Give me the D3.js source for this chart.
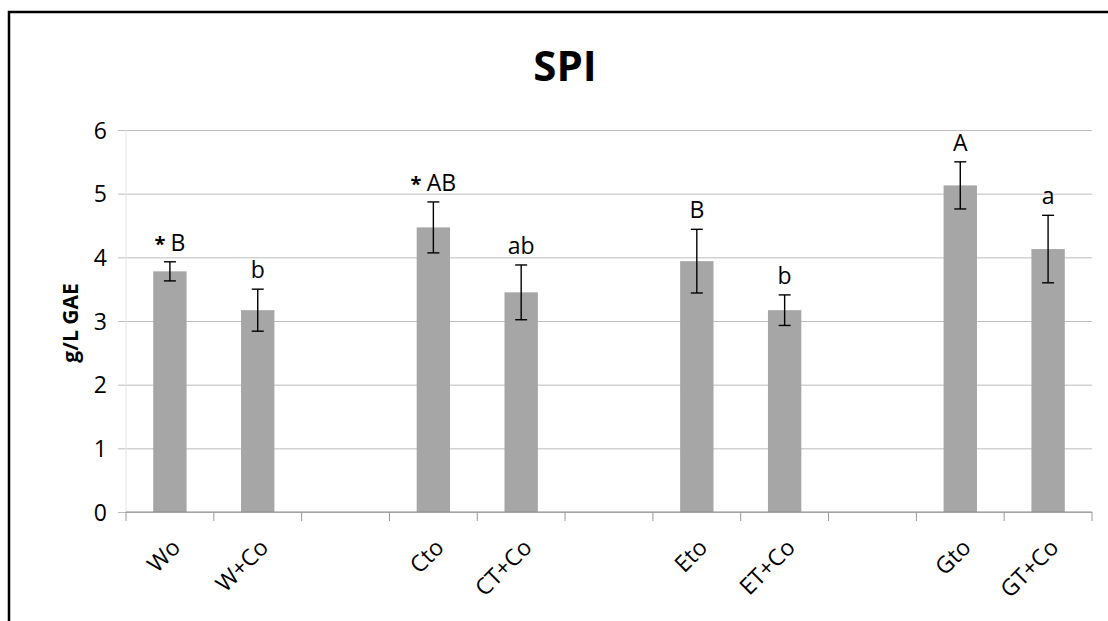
<!DOCTYPE html>
<html>
<head>
<meta charset="utf-8">
<script src="https://cdn.jsdelivr.net/npm/d3@7"></script>
<style>
  body { margin: 0; background: #fff; }
  text { font-family: "Open Sans", "Noto Sans", sans-serif; fill: #000; }
</style>
</head>
<body>
<div id="chart"></div>
<script>
var svgWidth = 1108;
var svgHeight = 621;

var margin = { top: 130, right: 16, bottom: 109, left: 126 };

var width = svgWidth - margin.left - margin.right;
var height = svgHeight - margin.top - margin.bottom;

// categories, empty strings are the spacer slots between groups
var categories = ["Wo", "W+Co", "", "Cto", "CT+Co", "", "Eto", "ET+Co", "", "Gto", "GT+Co"];
var values     = [3.78, 3.17, null, 4.47, 3.45, null, 3.94, 3.17, null, 5.13, 4.13];
var errors     = [0.15, 0.33, null, 0.40, 0.43, null, 0.50, 0.24, null, 0.37, 0.53];
var letters    = ["B", "b", "", "AB", "ab", "", "B", "b", "", "A", "a"];
var starred    = [true, false, false, true, false, false, false, false, false, false, false];
var yTicks     = [0, 1, 2, 3, 4, 5, 6];

var svg = d3.select("#chart")
  .append("svg")
  .attr("width", svgWidth)
  .attr("height", svgHeight);

// outer frame (left and top edges only, picture is cropped)
svg.append("path")
  .attr("d", "M9,621 V12 H1108")
  .attr("fill", "none")
  .attr("stroke", "#000")
  .attr("stroke-width", 2.5);

var chartGroup = svg.append("g")
  .attr("transform", `translate(${margin.left}, ${margin.top})`);

var idx = d3.range(categories.length);

var xBand = d3.scaleBand()
  .domain(idx)
  .range([0, width])
  .paddingInner(0.62)
  .paddingOuter(0.31);

var xSlot = d3.scaleBand()
  .domain(idx)
  .range([0, width])
  .padding(0);

var yLinearScale = d3.scaleLinear()
  .domain([0, 6])
  .range([height, 0]);

// gridlines + y ticks
var leftAxis = d3.axisLeft(yLinearScale)
  .tickValues(yTicks)
  .tickSize(-width)
  .tickPadding(19)
  .tickFormat(d3.format("d"));

var yAxis = chartGroup.append("g").call(leftAxis);
yAxis.select(".domain").remove();
yAxis.selectAll(".tick line")
  .attr("x1", -8)
  .attr("stroke", "#bdbdbd")
  .attr("stroke-width", 1);
yAxis.selectAll(".tick text")
  .style("font-size", "23px")
  .attr("dy", "0.36em");

// faint vertical value axis
chartGroup.append("line")
  .attr("x1", 0).attr("x2", 0)
  .attr("y1", 0).attr("y2", height)
  .attr("stroke", "#e6e6e6");

// bars
chartGroup.selectAll(".bar")
  .data(idx.filter(i => values[i] !== null))
  .enter()
  .append("rect")
  .attr("class", "bar")
  .attr("x", i => xBand(i))
  .attr("width", xBand.bandwidth())
  .attr("y", i => yLinearScale(values[i]))
  .attr("height", i => height - yLinearScale(values[i]))
  .attr("fill", "#a6a6a6");

// x axis line + tick marks between categories
chartGroup.append("line")
  .attr("x1", 0).attr("x2", width)
  .attr("y1", height).attr("y2", height)
  .attr("stroke", "#8c8c8c")
  .attr("stroke-width", 1.2);

chartGroup.selectAll(".xtick")
  .data(d3.range(categories.length + 1))
  .enter()
  .append("line")
  .attr("class", "xtick")
  .attr("x1", i => i * xSlot.step())
  .attr("x2", i => i * xSlot.step())
  .attr("y1", height)
  .attr("y2", height + 9)
  .attr("stroke", "#999")
  .attr("stroke-width", 1);

// error bars
var errGroup = chartGroup.selectAll(".err")
  .data(idx.filter(i => values[i] !== null))
  .enter()
  .append("g")
  .attr("class", "err")
  .attr("transform", i => `translate(${xBand(i) + xBand.bandwidth() / 2}, 0)`)
  .attr("stroke", "#000")
  .attr("stroke-width", 1.4);

errGroup.append("line")
  .attr("y1", i => yLinearScale(values[i] + errors[i]))
  .attr("y2", i => yLinearScale(values[i] - errors[i]));
errGroup.append("line")
  .attr("x1", -6).attr("x2", 6)
  .attr("y1", i => yLinearScale(values[i] + errors[i]))
  .attr("y2", i => yLinearScale(values[i] + errors[i]));
errGroup.append("line")
  .attr("x1", -6).attr("x2", 6)
  .attr("y1", i => yLinearScale(values[i] - errors[i]))
  .attr("y2", i => yLinearScale(values[i] - errors[i]));

// significance letters
var letterText = chartGroup.selectAll(".letter")
  .data(idx.filter(i => letters[i] !== ""))
  .enter()
  .append("text")
  .attr("class", "letter")
  .attr("x", i => xBand(i) + xBand.bandwidth() / 2)
  .attr("y", i => yLinearScale(values[i] + errors[i]) - 11)
  .style("font-size", "23px")
  .style("text-anchor", "middle");

letterText.filter(i => starred[i])
  .append("tspan")
  .style("font-weight", 700)
  .style("font-size", "20px")
  .text("* ");
letterText.append("tspan")
  .text(i => letters[i]);

// category labels
chartGroup.selectAll(".xlabel")
  .data(idx.filter(i => categories[i] !== ""))
  .enter()
  .append("text")
  .attr("class", "xlabel")
  .attr("transform", i => `translate(${xBand(i) + xBand.bandwidth() / 2 + 12}, ${height + 37}) rotate(-45)`)
  .style("font-size", "23px")
  .style("text-anchor", "end")
  .text(i => categories[i]);

// y axis title
svg.append("text")
  .attr("transform", "translate(78, 323) rotate(-90)")
  .style("font-size", "21px")
  .style("font-weight", 700)
  .style("text-anchor", "middle")
  .text("g/L GAE");

// chart title
svg.append("text")
  .attr("x", 565)
  .attr("y", 81)
  .style("font-size", "42px")
  .style("font-weight", 700)
  .style("text-anchor", "middle")
  .text("SPI");
</script>
</body>
</html>
